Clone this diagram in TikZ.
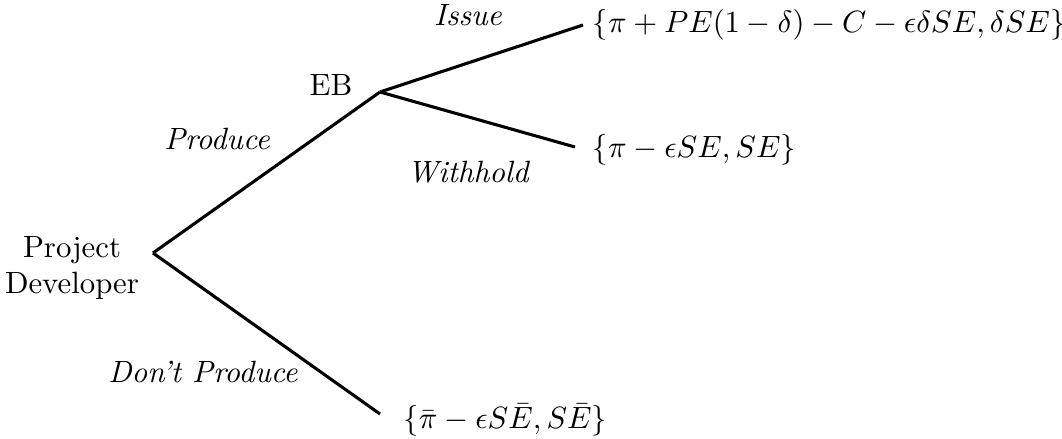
\documentclass[tikz,border=0pt]{standalone}
\usepackage{amsmath}
\begin{document}
\begin{tikzpicture}[x=0.325pt,y=-0.325pt,
  branch/.style={line width=1pt},
  lbl/.style={inner sep=0pt},
  act/.style={inner sep=0pt,font=\itshape},
  pay/.style={inner sep=0pt,anchor=west}]
\useasboundingbox (0,0) rectangle (1062,439);
\coordinate (root) at (153,253);
\coordinate (eb) at (380,92);
\coordinate (iss) at (583,25);
\coordinate (wh) at (575,147);
\coordinate (dp) at (380,414);
\node[lbl,align=center] (pd) at (72,268) {Project\\Developer};
\node[lbl] (ebl) at (331,85) {EB};
\node[act] (produce) at (217,139) {Produce};
\node[act] (issue) at (468,15) {Issue};
\node[act] (withhold) at (468,172) {Withhold};
\node[act] (dontp) at (203,372) {Don't Produce};
\node[pay] (p1) at (592,25) {$\{\pi+PE(1-\delta)-C-\epsilon\delta SE,\delta SE\}$};
\node[pay] (p2) at (592,150) {$\{\pi-\epsilon SE,SE\}$};
\node[pay] (p3) at (403,420) {$\{\bar{\pi}-\epsilon S\bar{E},S\bar{E}\}$};
\draw[branch] (root) -- (eb);
\draw[branch] (root) -- (dp);
\draw[branch] (eb) -- (iss);
\draw[branch] (eb) -- (wh);
\end{tikzpicture}
\end{document}
